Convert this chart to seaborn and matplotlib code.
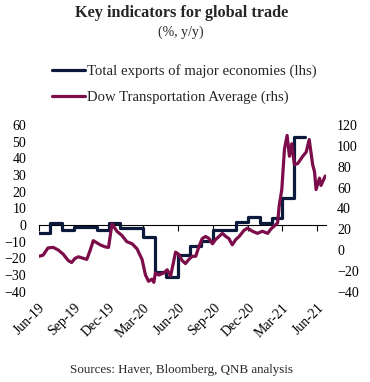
import numpy as np
import pandas as pd
import matplotlib
matplotlib.use("Agg")
import matplotlib.pyplot as plt
import matplotlib.dates as mdates
from matplotlib.lines import Line2D
import seaborn as sns

# Monthly total exports of major economies, % y/y (lhs)
export_months = pd.date_range("2019-06-01", "2021-05-01", freq="MS")
export_values = [-5, 1.5, -3, -1, -1, -3, 1.5, -2, -2, -7, -28, -31,
                 -18, -12.5, -9.5, -3, -3, 2, 5, 1, 4, 16, 53, 53]

# Dow Jones Transportation Average, % y/y (rhs)
dow_dates = pd.to_datetime([
    "2019-06-01", "2019-06-12", "2019-06-25", "2019-07-09", "2019-07-22",
    "2019-08-04", "2019-08-17", "2019-08-26", "2019-09-04", "2019-09-13",
    "2019-09-26", "2019-10-05", "2019-10-14", "2019-10-22", "2019-10-31",
    "2019-11-09", "2019-11-22", "2019-12-01", "2019-12-10", "2019-12-23",
    "2020-01-05", "2020-01-18", "2020-02-01", "2020-02-14", "2020-02-27",
    "2020-03-07", "2020-03-15", "2020-03-24", "2020-03-29", "2020-04-02",
    "2020-04-11", "2020-04-24", "2020-05-03", "2020-05-12", "2020-05-20",
    "2020-05-25", "2020-06-02", "2020-06-11", "2020-06-20", "2020-06-29",
    "2020-07-08", "2020-07-17", "2020-07-25", "2020-08-03", "2020-08-12",
    "2020-08-21", "2020-08-30", "2020-09-07", "2020-09-16", "2020-09-25",
    "2020-10-04", "2020-10-12", "2020-10-21", "2020-10-30", "2020-11-08",
    "2020-11-21", "2020-11-30", "2020-12-13", "2020-12-26", "2021-01-08",
    "2021-01-22", "2021-01-30", "2021-02-08", "2021-02-17", "2021-02-21",
    "2021-02-28", "2021-03-07", "2021-03-14", "2021-03-20", "2021-03-26",
    "2021-04-02", "2021-04-11", "2021-04-24", "2021-05-03", "2021-05-11",
    "2021-05-20", "2021-05-25", "2021-05-29", "2021-06-07", "2021-06-11",
    "2021-06-22",
])
dow_values = [
    -6, -5, 2, 2.5, 0,
    -4, -10, -12, -8, -6.5,
    -8, -9, 0, 9, 7,
    5, 3, 2.5, 25, 18,
    14, 8, 6, 1, -9,
    -24, -30, -28, -31, -22,
    -24, -22, -19, -25, -11,
    -2, -4, -10, -13, -9,
    -6, -6, 3, 11, 13,
    11, 6, 10, 13, 16,
    13, 11, 5, 10, 13,
    19, 21, 18, 16, 18,
    16, 20, 23, 26, 42,
    58, 97, 110, 90, 102,
    82, 83, 90, 94, 106,
    82, 75, 58, 69, 62,
    71,
]

tick_dates = pd.date_range("2019-06-01", "2021-06-01", freq="3MS")
tick_labels = [d.strftime("%b-%y") for d in tick_dates]

navy = "#0b1a3b"
maroon = "#7d0c4a"

exports = pd.DataFrame({"date": export_months, "value": export_values})
dow = pd.DataFrame({"date": dow_dates, "value": dow_values})

sns.set_theme(style="white")
plt.rcParams["font.family"] = ["Liberation Serif", "DejaVu Serif"]

fig = plt.figure(figsize=(3.7, 3.82), dpi=100)
ax = fig.add_axes([0.105, 0.2364, 0.776, 0.4364])
ax2 = ax.twinx()

sns.lineplot(data=exports, x="date", y="value", ax=ax, color=navy,
             linewidth=2.3, drawstyle="steps-post")
sns.lineplot(data=dow, x="date", y="value", ax=ax2, color=maroon,
             linewidth=2.3)

ax.set_xlim(pd.Timestamp("2019-06-01"), pd.Timestamp("2021-06-24"))
ax.set_ylim(-40, 60)
ax.set_yticks(range(-40, 61, 10))
ax2.set_ylim(-40, 120)
ax2.set_yticks(range(-40, 121, 20))

for a in (ax, ax2):
    for s in a.spines.values():
        s.set_visible(False)
    a.set_xlabel("")
    a.set_ylabel("")
    a.grid(False)

ax.tick_params(axis="y", length=0, pad=9, labelsize=10, colors="black")
ax2.tick_params(axis="y", length=0, pad=8, labelsize=10, colors="black")

ax.set_xticks(tick_dates)
ax.set_xticklabels(tick_labels, rotation=45, ha="right",
                   rotation_mode="anchor", fontsize=10)
ax.tick_params(axis="x", length=0, pad=7, colors="black")

# zero line with tick marks (left axis 0 sits at 40% of height)
zero = ax.secondary_xaxis(0.4)
zero.set_xticks(mdates.date2num(tick_dates))
zero.tick_params(axis="x", direction="out", length=4, width=0.8,
                 color="black", labelbottom=False, labeltop=False)
zero.spines["bottom"].set_color("black")
zero.spines["bottom"].set_linewidth(0.8)

fig.text(0.49, 0.966, "Key indicators for global trade", ha="center",
         va="center", fontsize=11.7, fontweight="bold")
fig.text(0.49, 0.916, "(%, y/y)", ha="center", va="center", fontsize=10)

handles = [Line2D([], [], color=navy, linewidth=2.3),
           Line2D([], [], color=maroon, linewidth=2.3)]
fig.legend(handles, ["Total exports of major economies (lhs)",
                     "Dow Transportation Average (rhs)"],
           loc="upper left", bbox_to_anchor=(0.1405, 0.8325), frameon=False,
           fontsize=10.6, handlelength=2.25, handletextpad=0.12,
           labelspacing=0.88, borderpad=0, borderaxespad=0)

fig.text(0.49, 0.031, "Sources: Haver, Bloomberg, QNB analysis",
         ha="center", va="center", fontsize=9.4)

fig.savefig("out.png", dpi=100)
